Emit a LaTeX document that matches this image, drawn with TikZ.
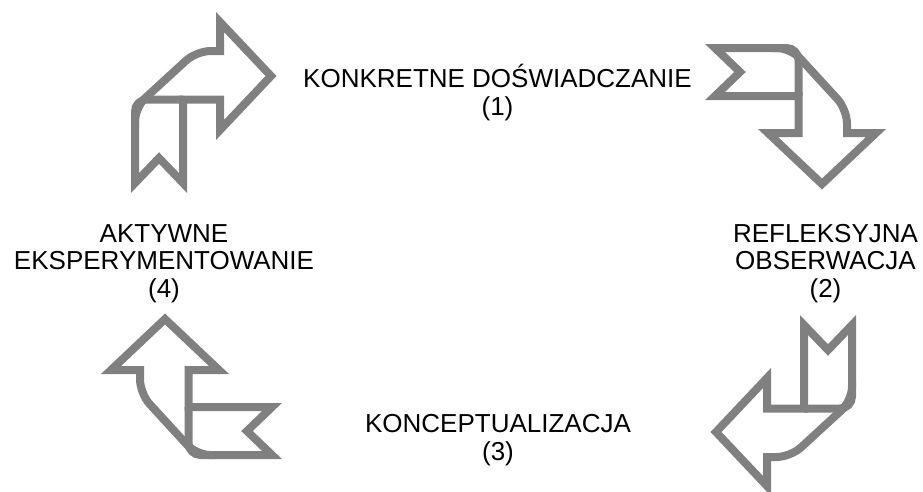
\documentclass[tikz,border=0pt]{standalone}
\usepackage{fontspec}
\setmainfont{Liberation Sans}
\usepackage{tikz}
\usetikzlibrary{positioning}

\definecolor{ribbongray}{RGB}{128,128,128}

\tikzset{
  ribbon/.style={draw=ribbongray, line width=8pt, line join=miter},
  stage/.style={align=center, anchor=base, inner sep=0pt,
    font=\fontsize{26}{27.5}\selectfont},
  pics/turnarrow/.style={code={
    % folded ribbon, arrow head pointing right, tail hanging down
    \draw[ribbon] (51,0) -- (0,-54) -- (0,-25)
      [rounded corners=14pt] -- (-23.5,-25) -- (-85,31.4)
      [sharp corners] -- (-85,107) -- (-61,82) -- (-37,107)
      -- (-37,23.5) -- (0,23.5) -- (0,54) -- cycle;
    \draw[ribbon, rounded corners=12pt] (-37,23.5) -- (-85,23.5) -- (-85,50);
  }}
}

\begin{document}
\begin{tikzpicture}[x=1pt, y=-1pt]
  \fill[white] (0,0) rectangle (923,491);
  \useasboundingbox (0,0) rectangle (923,491);

  % base = last line of each label
  \node[stage] (ce) at (497.5,115) {KONKRETNE DOŚWIADCZANIE\\(1)};
  \node[stage] (ro) at (825.5,297) {REFLEKSYJNA\\OBSERWACJA\\(2)};
  \node[stage] (ac) at (498,460) {KONCEPTUALIZACJA\\(3)};
  \node[stage] (ae) at (164,297) {AKTYWNE\\EKSPERYMENTOWANIE\\(4)};

  % the four arrows of the cycle
  \pic at (220,76) {turnarrow};
  \pic[rotate=-90] at (822,133) {turnarrow};
  \pic[rotate=180] at (767,432) {turnarrow};
  \pic[rotate=90] at (165,370) {turnarrow};
\end{tikzpicture}
\end{document}
